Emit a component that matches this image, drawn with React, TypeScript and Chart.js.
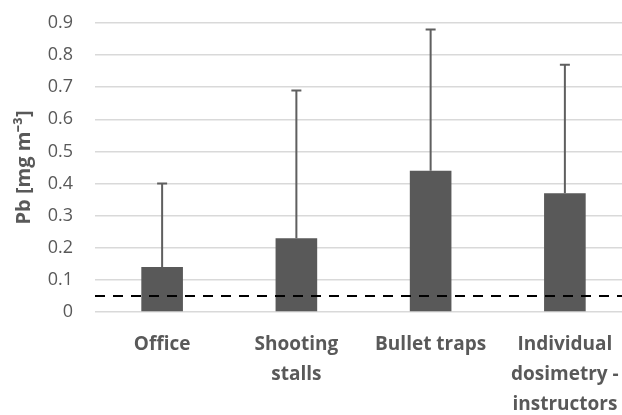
import React, { useEffect, useRef } from "react";
import { Chart, registerables } from "chart.js";

Chart.register(...registerables);

// Mean lead concentrations per sampling location, with standard deviations
const categories: string[][] = [
  ["Office"],
  ["Shooting", "stalls"],
  ["Bullet traps"],
  ["Individual", "dosimetry -", "instructors"],
];
const meanValues: number[] = [0.14, 0.23, 0.44, 0.37];
const sdValues: number[] = [0.26, 0.46, 0.44, 0.4];
const exposureLimit = 0.05;
const yTicks: number[] = [0, 0.1, 0.2, 0.3, 0.4, 0.5, 0.6, 0.7, 0.8, 0.9];

const BAR_COLOR = "#595959";
const TEXT_COLOR = "#595959";
const GRID_COLOR = "#d9d9d9";
const FONT = "'Open Sans', sans-serif";

const errorAndLimit = {
  id: "errorAndLimit",
  afterDatasetsDraw(chart: any) {
    const { ctx, chartArea } = chart;
    const yScale = chart.scales.y;
    const meta = chart.getDatasetMeta(0);
    ctx.save();
    // upper error bars
    ctx.strokeStyle = "#5f5f5f";
    ctx.lineWidth = 2;
    meta.data.forEach((bar: any, i: number) => {
      const { x, y } = bar.getProps(["x", "y"], true);
      const top = yScale.getPixelForValue(meanValues[i] + sdValues[i]);
      ctx.beginPath();
      ctx.moveTo(x, y);
      ctx.lineTo(x, top);
      ctx.moveTo(x - 5, top);
      ctx.lineTo(x + 5, top);
      ctx.stroke();
    });
    // exposure limit line
    const ly = yScale.getPixelForValue(exposureLimit);
    ctx.strokeStyle = "#000000";
    ctx.lineWidth = 2;
    ctx.setLineDash([10, 8]);
    ctx.beginPath();
    ctx.moveTo(chartArea.left, ly);
    ctx.lineTo(chartArea.right, ly);
    ctx.stroke();
    ctx.restore();
  },
};

export default function App() {
  const canvasRef = useRef<HTMLCanvasElement | null>(null);

  useEffect(() => {
    document.body.style.margin = "0";
    document.body.style.overflow = "hidden";
    const canvas = canvasRef.current;
    if (!canvas) return;
    const chart = new Chart(canvas, {
      type: "bar",
      data: {
        labels: categories,
        datasets: [
          {
            data: meanValues,
            backgroundColor: BAR_COLOR,
            borderWidth: 0,
            barPercentage: 0.62,
            categoryPercentage: 0.5,
          },
        ],
      },
      options: {
        animation: false,
        responsive: true,
        maintainAspectRatio: false,
        layout: { padding: { left: 12, right: 8, top: 23, bottom: 0 } },
        plugins: {
          legend: { display: false },
          tooltip: { enabled: false },
        },
        scales: {
          x: {
            afterFit(scale: any) {
              scale.height = 103;
            },
            grid: { display: false, drawTicks: false },
            border: { display: false },
            ticks: {
              color: TEXT_COLOR,
              font: { family: FONT, size: 19, weight: "bold", lineHeight: 1.6 },
              padding: 17,
              maxRotation: 0,
              autoSkip: false,
            },
          },
          y: {
            min: 0,
            max: 0.9,
            afterFit(scale: any) {
              scale.width = 83;
              // keep the label gap from pushing the plot area down
              scale.paddingTop = 10;
              scale.paddingBottom = 10;
            },
            afterBuildTicks(scale: any) {
              scale.ticks = yTicks.map((v) => ({ value: v }));
            },
            grid: { color: GRID_COLOR, lineWidth: 1.5, drawTicks: false },
            border: { display: false },
            ticks: {
              color: TEXT_COLOR,
              font: { family: FONT, size: 18 },
              padding: 22,
              callback: (v: any) => (Number(v) === 0 ? "0" : Number(v).toFixed(1)),
            },
            title: {
              display: true,
              text: "Pb [mg m\u207B\u00B3]",
              color: TEXT_COLOR,
              font: { family: FONT, size: 20, weight: "bold" },
              padding: { top: 0, bottom: 10 },
            },
          },
        },
      },
      plugins: [errorAndLimit],
    });
    return () => chart.destroy();
  }, []);

  return (
    <div style={{ width: 622, height: 415, overflow: "hidden", position: "relative", background: "#fff" }}>
      <div style={{ width: 640, height: 415, position: "absolute", left: 0, top: 0 }}>
        <canvas ref={canvasRef} />
      </div>
    </div>
  );
}
